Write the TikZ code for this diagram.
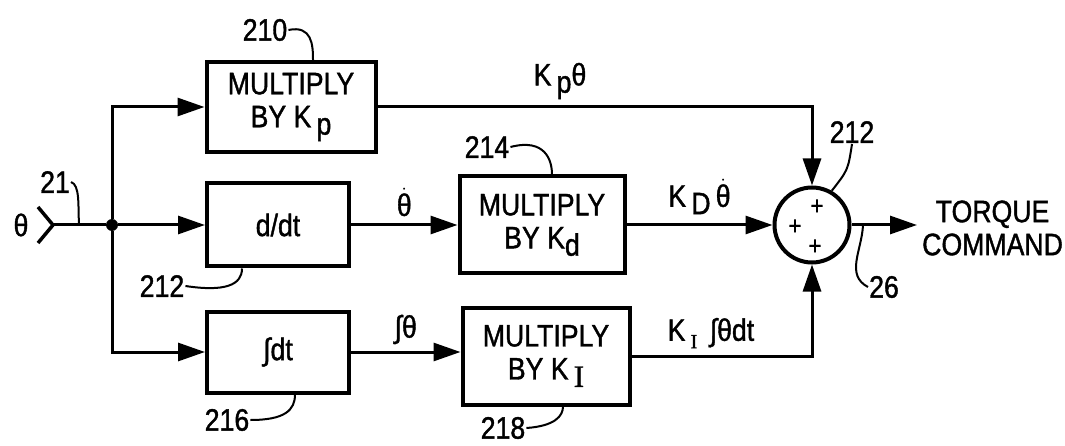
\documentclass[tikz,border=0pt]{standalone}
\usepackage{fontspec}
\setmainfont{Liberation Sans}[FakeStretch=0.86,FakeBold=1.2]
\newfontfamily\serifface{Liberation Serif}[FakeBold=1.2]
\usetikzlibrary{
  calc,
  positioning,
  arrows.meta}

\newcommand{\lowsub}[1]{\raisebox{-0.45ex}{#1}}
\newcommand{\thetadot}{\ensuremath{\dot{\hbox{θ}}}}

\tikzset{
  block/.style={draw,line width=4pt,align=center,inner sep=0pt},
  wire/.style={line width=3pt},
  flow/.style={wire,-{Triangle[length=27pt,width=18pt]}},
  leader/.style={line width=2pt},
  refnum/.style={inner sep=1pt}
}

\begin{document}
\begin{tikzpicture}[
  x=1pt,y=-1pt,
  font=\fontsize{31}{33}\selectfont
]%
  \useasboundingbox (0,0) rectangle (1065,446);

  % Input
  \node (thetain) at (21,225) {θ};
  \coordinate (in) at (53,225);
  \draw[line width=3.5pt] (38,207) -- (in) -- (38,243);
  \node[circle,fill,minimum size=12pt,inner sep=0pt] (jn) at (112,225) {};

  % Blocks
  \node[block,minimum width=169pt,minimum height=90pt] (kp) at (291,107)
    {MULTIPLY\\ BY K\,\lowsub{p}};
  \node[block,minimum width=142pt,minimum height=83pt] (ddt) at (278,225) {d/dt};
  \node[block,minimum width=165pt,minimum height=97pt] (kd) at (542,225)
    {MULTIPLY\\ BY K\lowsub{d}};
  \node[block,minimum width=142pt,minimum height=81pt] (intg) at (278,352) {∫dt};
  \node[block,minimum width=167pt,minimum height=97pt] (ki) at (546,356)
    {MULTIPLY\\ BY K\,\lowsub{{\serifface I}}};

  % Summing junction
  \node[circle,draw,line width=4pt,minimum size=75pt,inner sep=0pt] (sum) at (812,225) {};
  \node[font=\fontsize{26}{26}\selectfont] (plustop) at ($(sum)+(5,-18)$) {+};
  \node[font=\fontsize{26}{26}\selectfont] (plusleft) at ($(sum)+(-17,2)$) {+};
  \node[font=\fontsize{26}{26}\selectfont] (plusbot) at ($(sum)+(3,22)$) {+};

  % Output
  \coordinate (out) at (917,225);
  \node[anchor=west,align=center,inner sep=1pt] (torque) at (921,228) {TORQUE\\COMMAND};

  % Connections
  \draw[wire] (in) -- (jn);
  \draw[flow] (jn) |- (kp.west);
  \draw[flow] (jn) -- (ddt.west);
  \draw[flow] (jn) |- (intg.west);
  \draw[flow] (ddt.east) -- node[above=4pt] {\thetadot} (ddt.east -| kd.west);
  \draw[flow] (intg.east) -- node[above=3pt] {∫θ} (intg.east -| ki.west);
  \draw[flow] (kp.east) -| node[pos=0.21,above=3pt] {K\,\lowsub{p}θ} (sum.north);
  \draw[flow] (kd.east) -- node[above=6pt] {K\,\lowsub{D}\,\thetadot} (sum.west);
  \draw[flow] (ki.east) -| node[pos=0.22,above=3pt]
    {K\,\lowsub{\fontsize{20}{20}\selectfont\serifface I}\, ∫θdt} (sum.south);
  \draw[flow] (sum.east) -- (out);

  % Reference numerals
  \node[refnum] (l210) at (265,30) {210};
  \node[refnum] (l21) at (55,182) {21};
  \node[refnum] (l212a) at (162,286) {212};
  \node[refnum] (l216) at (227,420) {216};
  \node[refnum] (l214) at (487,147) {214};
  \node[refnum] (l218) at (503,428) {218};
  \node[refnum] (l212b) at (852,132) {212};
  \node[refnum] (l26) at (884,287) {26};

  \coordinate (c21) at (79,225);
  \coordinate (c26) at (863,225);

  \draw[leader] (l210.east) .. controls (312,25) and (313,45) .. ([xshift=22pt]kp.north);
  \draw[leader] (l21.east) .. controls (80,185) and (78,205) .. (c21);
  \draw[leader] (l212a.east) .. controls (225,292) and (242,285) .. ([xshift=-36pt]ddt.south);
  \draw[leader] (l216.east) .. controls (285,420) and (295,410) .. ([xshift=17pt]intg.south);
  \draw[leader] (l214.east) .. controls (545,138) and (552,160) .. ([xshift=10pt]kd.north);
  \draw[leader] (l218.east) .. controls (555,426) and (563,416) .. ([xshift=17pt]ki.south);
  \draw[leader] (l212b.south) .. controls (848,170) .. (sum.60);
  \draw[leader] (l26.west) .. controls (845,275) and (862,250) .. (c26);
\end{tikzpicture}
\end{document}
